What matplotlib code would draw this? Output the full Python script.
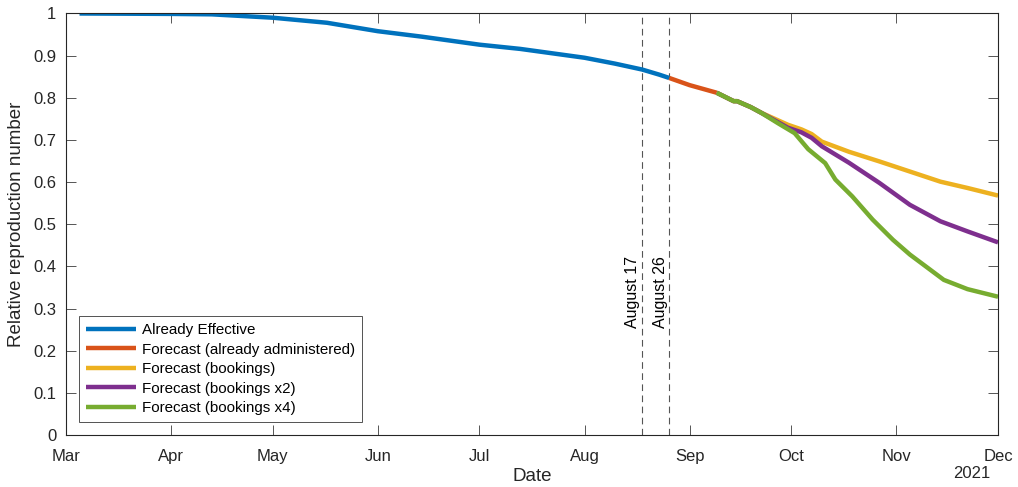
import matplotlib
matplotlib.use("Agg")
import matplotlib.pyplot as plt
import matplotlib.dates as mdates
import pandas as pd

plt.rcParams['font.family'] = ['Liberation Sans', 'DejaVu Sans']

# Already effective (observed)
eff_dates = ['2021-03-05', '2021-04-01', '2021-04-13', '2021-05-01', '2021-05-17',
             '2021-06-01', '2021-06-14', '2021-07-01', '2021-07-13', '2021-08-01',
             '2021-08-10', '2021-08-18', '2021-08-23', '2021-08-26']
eff_vals = [1.0, 0.999, 0.998, 0.990, 0.978,
            0.958, 0.945, 0.926, 0.916, 0.895,
            0.881, 0.867, 0.855, 0.847]

# Forecast from doses already administered
adm_dates = ['2021-08-26', '2021-09-01', '2021-09-09']
adm_vals = [0.847, 0.830, 0.812]

# shared start of the booking forecasts
shared_dates = ['2021-09-09', '2021-09-14', '2021-09-15', '2021-09-19', '2021-09-22']
shared_vals = [0.812, 0.792, 0.792, 0.778, 0.765]

book_dates = ['2021-09-30', '2021-10-04', '2021-10-07', '2021-10-10', '2021-10-18',
              '2021-10-27', '2021-11-05', '2021-11-14', '2021-11-22', '2021-12-01']
book1_vals = [0.736, 0.725, 0.714, 0.696, 0.672, 0.649, 0.625, 0.601, 0.586, 0.568]
book2_vals = [0.729, 0.718, 0.705, 0.685, 0.646, 0.598, 0.546, 0.507, 0.483, 0.457]

book4_dates = ['2021-09-27', '2021-10-02', '2021-10-06', '2021-10-11', '2021-10-14',
               '2021-10-19', '2021-10-25', '2021-10-31', '2021-11-05', '2021-11-15',
               '2021-11-22', '2021-12-01']
book4_vals = [0.740, 0.716, 0.678, 0.645, 0.606, 0.566, 0.511, 0.463, 0.428, 0.368,
              0.346, 0.328]

marker_dates = ['2021-08-18', '2021-08-26']
marker_labels = ['August 17', 'August 26']

colors = ['#0072BD', '#D95319', '#EDB120', '#7E2F8E', '#77AC30']
labels = ['Already Effective', 'Forecast (already administered)', 'Forecast (bookings)',
          'Forecast (bookings x2)', 'Forecast (bookings x4)']

fig = plt.figure(figsize=(10.18, 4.87), dpi=100)
ax = fig.add_axes([0.0648, 0.1068, 0.9156, 0.8655])

d = pd.to_datetime
lw = 3.2
ax.plot(d(eff_dates), eff_vals, color=colors[0], lw=lw, label=labels[0], solid_capstyle='butt')
ax.plot(d(adm_dates), adm_vals, color=colors[1], lw=lw, label=labels[1], solid_capstyle='butt')
ax.plot(d(shared_dates + book_dates), shared_vals + book1_vals, color=colors[2], lw=lw,
        label=labels[2], solid_capstyle='butt')
ax.plot(d(shared_dates + book_dates), shared_vals + book2_vals, color=colors[3], lw=lw,
        label=labels[3], solid_capstyle='butt')
ax.plot(d(shared_dates + book4_dates), shared_vals + book4_vals, color=colors[4], lw=lw,
        label=labels[4], solid_capstyle='butt')

for md, ml in zip(marker_dates, marker_labels):
    ax.axvline(d(md), color='#555555', lw=0.8, ls=(0, (6, 4)), zorder=1)
    ax.text(d(md) - pd.Timedelta(hours=12), 0.34, ml, rotation=90, ha='right', va='center',
            fontsize=11.5, color='black')

ax.set_xlim(d('2021-03-01'), d('2021-12-01'))
ax.set_ylim(0, 1)
ax.set_yticks([i / 10 for i in range(11)])
ax.set_yticklabels(['0', '0.1', '0.2', '0.3', '0.4', '0.5', '0.6', '0.7', '0.8', '0.9', '1'])
ax.xaxis.set_major_locator(mdates.MonthLocator())
ax.xaxis.set_major_formatter(mdates.DateFormatter('%b'))

for s in ax.spines.values():
    s.set_color('#262626')
    s.set_linewidth(0.8)
ax.tick_params(direction='in', length=7, width=0.7, color='#555555', top=True, right=True,
               labelsize=12, labelcolor='#262626')
ax.tick_params(axis='x', pad=10)
ax.tick_params(axis='y', pad=7)

ax.set_xlabel('Date', fontsize=13.5, color='#262626', labelpad=3)
ax.set_ylabel('Relative reproduction number', fontsize=13.5, color='#262626', labelpad=6)
ax.text(0.9915, -0.073, '2021', transform=ax.transAxes, ha='right', va='top',
        fontsize=12, color='#262626')

leg = ax.legend(loc='lower left', bbox_to_anchor=(0.014, 0.031), fontsize=10.9, frameon=True,
                fancybox=False, edgecolor='#262626', handlelength=3.3, handletextpad=0.4,
                labelspacing=0.36, borderpad=0.45, borderaxespad=0)
leg.get_frame().set_linewidth(0.7)

fig.savefig('out.png', dpi=100)
